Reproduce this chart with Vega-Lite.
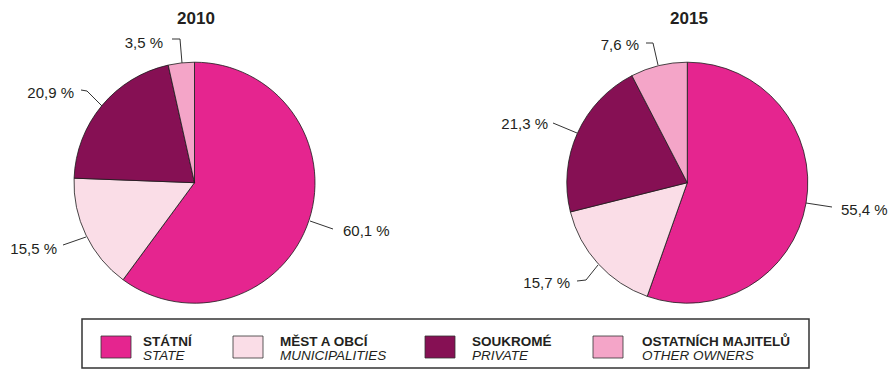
{
  "$schema": "https://vega.github.io/schema/vega-lite/v6.json",
  "width": 889,
  "height": 369,
  "padding": 0,
  "autosize": {"type": "fit", "contains": "padding"},
  "background": "white",
  "config": {"view": {"stroke": null}, "axis": {"disable": true}},
  "datasets": {
    "pie": [
      {"year": 2010, "cat": "Státní", "ord": 0, "v": 60.1},
      {"year": 2010, "cat": "Měst a obcí", "ord": 1, "v": 15.5},
      {"year": 2010, "cat": "Soukromé", "ord": 2, "v": 20.9},
      {"year": 2010, "cat": "Ostatních majitelů", "ord": 3, "v": 3.5},
      {"year": 2015, "cat": "Státní", "ord": 0, "v": 55.4},
      {"year": 2015, "cat": "Měst a obcí", "ord": 1, "v": 15.7},
      {"year": 2015, "cat": "Soukromé", "ord": 2, "v": 21.3},
      {"year": 2015, "cat": "Ostatních majitelů", "ord": 3, "v": 7.6}
    ],
    "lines": [
      {"id": "a", "k": 0, "x": 310, "y": 221}, {"id": "a", "k": 1, "x": 333, "y": 229},
      {"id": "b", "k": 0, "x": 86, "y": 237}, {"id": "b", "k": 1, "x": 63, "y": 245},
      {"id": "c", "k": 0, "x": 102, "y": 106}, {"id": "c", "k": 1, "x": 87, "y": 91}, {"id": "c", "k": 2, "x": 81, "y": 90},
      {"id": "d", "k": 0, "x": 182, "y": 63}, {"id": "d", "k": 1, "x": 180, "y": 39}, {"id": "d", "k": 2, "x": 172, "y": 39},
      {"id": "e", "k": 0, "x": 806, "y": 203}, {"id": "e", "k": 1, "x": 832, "y": 207},
      {"id": "f", "k": 0, "x": 598, "y": 265}, {"id": "f", "k": 1, "x": 586, "y": 280}, {"id": "f", "k": 2, "x": 577, "y": 281},
      {"id": "g", "k": 0, "x": 577, "y": 133}, {"id": "g", "k": 1, "x": 553, "y": 123},
      {"id": "h", "k": 0, "x": 658, "y": 65}, {"id": "h", "k": 1, "x": 653, "y": 43}, {"id": "h", "k": 2, "x": 646, "y": 43}
    ],
    "labels": [
      {"t": "60,1 %", "x": 343, "y": 236, "side": "L"},
      {"t": "15,5 %", "x": 57, "y": 254, "side": "R"},
      {"t": "20,9 %", "x": 74, "y": 98, "side": "R"},
      {"t": "3,5 %", "x": 163, "y": 48, "side": "R"},
      {"t": "55,4 %", "x": 841, "y": 215, "side": "L"},
      {"t": "15,7 %", "x": 570, "y": 288, "side": "R"},
      {"t": "21,3 %", "x": 548, "y": 129, "side": "R"},
      {"t": "7,6 %", "x": 639, "y": 50, "side": "R"}
    ],
    "titles": [
      {"t": "2010", "x": 196, "y": 24},
      {"t": "2015", "x": 689, "y": 24}
    ],
    "box": [{"x": 82, "x2": 809, "y": 319, "y2": 368}],
    "legend": [
      {"cat": "Státní", "x": 101, "x2": 131, "y": 336, "y2": 358, "tx": 143, "cz": "STÁTNÍ", "en": "STATE"},
      {"cat": "Měst a obcí", "x": 233, "x2": 263, "y": 336, "y2": 358, "tx": 280, "cz": "MĚST A OBCÍ", "en": "MUNICIPALITIES"},
      {"cat": "Soukromé", "x": 425, "x2": 455, "y": 336, "y2": 358, "tx": 472, "cz": "SOUKROMÉ", "en": "PRIVATE"},
      {"cat": "Ostatních majitelů", "x": 593, "x2": 623, "y": 336, "y2": 358, "tx": 642, "cz": "OSTATNÍCH MAJITELŮ", "en": "OTHER OWNERS"}
    ]
  },
  "layer": [
    {
      "data": {"name": "pie"},
      "transform": [{"filter": "datum.year == 2010"}],
      "mark": {"type": "arc", "outerRadius": 120.5, "stroke": "#1a1a1a", "strokeWidth": 0.8},
      "encoding": {
        "theta": {"field": "v", "type": "quantitative", "stack": true},
        "order": {"field": "ord", "type": "quantitative", "sort": "ascending"},
        "color": {"field": "cat", "type": "nominal", "legend": null,
          "scale": {"domain": ["Státní", "Měst a obcí", "Soukromé", "Ostatních majitelů"], "range": ["#E5258F", "#FADDE7", "#861054", "#F4A5C8"]}},
        "x": {"datum": 194.5, "type": "quantitative", "scale": {"domain": [0, 889], "nice": false, "zero": false}},
        "y": {"datum": 182.7, "type": "quantitative", "scale": {"domain": [0, 369], "nice": false, "zero": false, "reverse": true}}
      }
    },
    {
      "data": {"name": "pie"},
      "transform": [{"filter": "datum.year == 2015"}],
      "mark": {"type": "arc", "outerRadius": 120.5, "stroke": "#1a1a1a", "strokeWidth": 0.8},
      "encoding": {
        "theta": {"field": "v", "type": "quantitative", "stack": true},
        "order": {"field": "ord", "type": "quantitative", "sort": "ascending"},
        "color": {"field": "cat", "type": "nominal", "legend": null},
        "x": {"datum": 687.3, "type": "quantitative"},
        "y": {"datum": 182.7, "type": "quantitative"}
      }
    },
    {
      "data": {"name": "lines"},
      "mark": {"type": "line", "color": "#333333", "strokeWidth": 1},
      "encoding": {
        "x": {"field": "x", "type": "quantitative"},
        "y": {"field": "y", "type": "quantitative"},
        "detail": {"field": "id", "type": "nominal"},
        "order": {"field": "k", "type": "quantitative"}
      }
    },
    {
      "data": {"name": "labels"},
      "transform": [{"filter": "datum.side == 'L'"}],
      "mark": {"type": "text", "align": "left", "baseline": "alphabetic", "font": "Liberation Sans", "fontSize": 15, "color": "#231f20"},
      "encoding": {
        "x": {"field": "x", "type": "quantitative"},
        "y": {"field": "y", "type": "quantitative"},
        "text": {"field": "t", "type": "nominal"}
      }
    },
    {
      "data": {"name": "labels"},
      "transform": [{"filter": "datum.side == 'R'"}],
      "mark": {"type": "text", "align": "right", "baseline": "alphabetic", "font": "Liberation Sans", "fontSize": 15, "color": "#231f20"},
      "encoding": {
        "x": {"field": "x", "type": "quantitative"},
        "y": {"field": "y", "type": "quantitative"},
        "text": {"field": "t", "type": "nominal"}
      }
    },
    {
      "data": {"name": "titles"},
      "mark": {"type": "text", "align": "center", "baseline": "alphabetic", "font": "Liberation Sans", "fontSize": 17, "fontWeight": "bold", "color": "#231f20"},
      "encoding": {
        "x": {"field": "x", "type": "quantitative"},
        "y": {"field": "y", "type": "quantitative"},
        "text": {"field": "t", "type": "nominal"}
      }
    },
    {
      "data": {"name": "box"},
      "mark": {"type": "rect", "fill": "white", "stroke": "#333333", "strokeWidth": 1.5},
      "encoding": {
        "x": {"field": "x", "type": "quantitative"},
        "x2": {"field": "x2"},
        "y": {"field": "y", "type": "quantitative"},
        "y2": {"field": "y2"}
      }
    },
    {
      "data": {"name": "legend"},
      "mark": {"type": "rect", "stroke": "#333333", "strokeWidth": 0.8},
      "encoding": {
        "x": {"field": "x", "type": "quantitative"},
        "x2": {"field": "x2"},
        "y": {"field": "y", "type": "quantitative"},
        "y2": {"field": "y2"},
        "color": {"field": "cat", "type": "nominal", "legend": null}
      }
    },
    {
      "data": {"name": "legend"},
      "mark": {"type": "text", "align": "left", "baseline": "alphabetic", "font": "Liberation Sans", "fontSize": 13.5, "fontWeight": "bold", "color": "#231f20"},
      "encoding": {
        "x": {"field": "tx", "type": "quantitative"},
        "y": {"datum": 346, "type": "quantitative"},
        "text": {"field": "cz", "type": "nominal"}
      }
    },
    {
      "data": {"name": "legend"},
      "mark": {"type": "text", "align": "left", "baseline": "alphabetic", "font": "Liberation Sans", "fontSize": 13.5, "fontStyle": "italic", "color": "#231f20"},
      "encoding": {
        "x": {"field": "tx", "type": "quantitative"},
        "y": {"datum": 360, "type": "quantitative"},
        "text": {"field": "en", "type": "nominal"}
      }
    }
  ]
}
